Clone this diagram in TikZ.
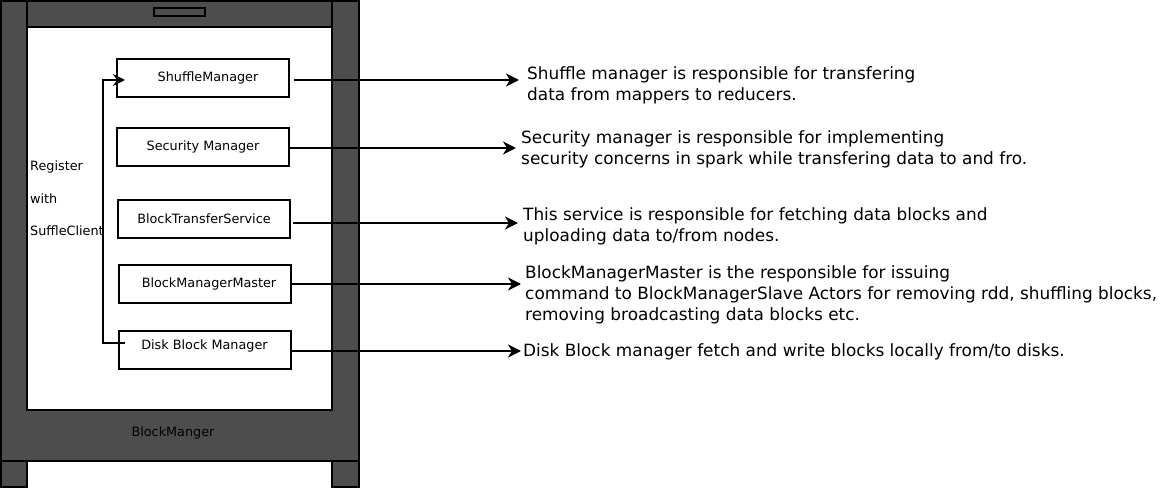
\documentclass[tikz,border=0pt]{standalone}
\usepackage{fontspec}
\setmainfont{DejaVu Sans}
\usetikzlibrary{arrows.meta}
\definecolor{frame}{HTML}{4D4D4D}
\tikzset{
  box/.style={draw=black, line width=2pt, fill=white, minimum width=172pt, minimum height=38pt, inner sep=0pt, font=\fontsize{12.8}{14}\selectfont},
  desc/.style={anchor=west, align=left, inner sep=0pt, font=\fontsize{16.9}{21}\selectfont},
  small/.style={anchor=west, inner sep=0pt, font=\fontsize{12.8}{14}\selectfont},
  conn/.style={line width=2pt, -{Stealth[length=13pt,width=13pt,inset=4pt]}},
}
\begin{document}
\begin{tikzpicture}[x=1pt,y=-1pt]
\useasboundingbox (0,0) rectangle (1160,489);
% frame
\draw[fill=frame, line width=2pt] (1,1) -- (359,1) -- (359,487) -- (332,487) -- (332,461) -- (27,461) -- (27,487) -- (1,487) -- cycle;
\draw[line width=2pt] (1,461) -- (359,461);
\draw[line width=2pt] (27,1) -- (27,27) (332,1) -- (332,27);
\draw[fill=white, line width=2pt] (27,27) rectangle (332,410);
\draw[fill=frame, line width=1.5pt] (154,8) rectangle (205,16);
\node[inner sep=0pt, font=\fontsize{12.8}{14}\selectfont] (bm) at (173,433) {BlockManger};
% boxes
\node[box] (sm) at (203,78) {\hspace*{10pt}\raisebox{3pt}{ShuffleManager}};
\node[box] (sec) at (203,147) {Security Manager};
\node[box] (bts) at (204,219) {BlockTransferService};
\node[box] (bmm) at (205,284) {\hspace*{8pt}BlockManagerMaster};
\node[box] (dbm) at (204.5,350) {\raisebox{11pt}{Disk Block Manager}};
% register labels
\node[small] (r1) at (30,166.5) {Register};
\node[small] (r2) at (30,198.5) {with};
\node[small] (r3) at (30,230.5) {SuffleClient};
% register connector
\coordinate (rs) at (125,343);
\coordinate (re) at (125,80);
\draw[line width=2pt, -{Stealth[length=12pt,width=12pt,inset=4pt]}] (rs) -- (103,343) -- (103,80) -- (re);
% descriptions
\node[desc] (d1) at (527,85) {Shuffle manager is responsible for transfering\\data from mappers to reducers.};
\node[desc] (d2) at (521,149) {Security manager is responsible for implementing\\security concerns in spark while transfering data to and fro.};
\node[desc] (d3) at (523,226) {This service is responsible for fetching data blocks and\\uploading data to/from nodes.};
\node[desc] (d4) at (525,295) {BlockManagerMaster is the responsible for issuing\\command to BlockManagerSlave Actors for removing rdd, shuffling blocks,\\removing broadcasting data blocks etc.};
\node[desc] (d5) at (523,352) {Disk Block manager fetch and write blocks locally from/to disks.};
% connectors
\draw[conn] ([xshift=4pt]sm.east |- 0,80) -- (519,80);
\draw[conn] (sec.east |- 0,148) -- (516,148);
\draw[conn] ([xshift=2pt]bts.east |- 0,223) -- (518,223);
\draw[conn] (bmm.east |- 0,284) -- (521,284);
\draw[conn] (dbm.east |- 0,351) -- (521,351);
\end{tikzpicture}
\end{document}
